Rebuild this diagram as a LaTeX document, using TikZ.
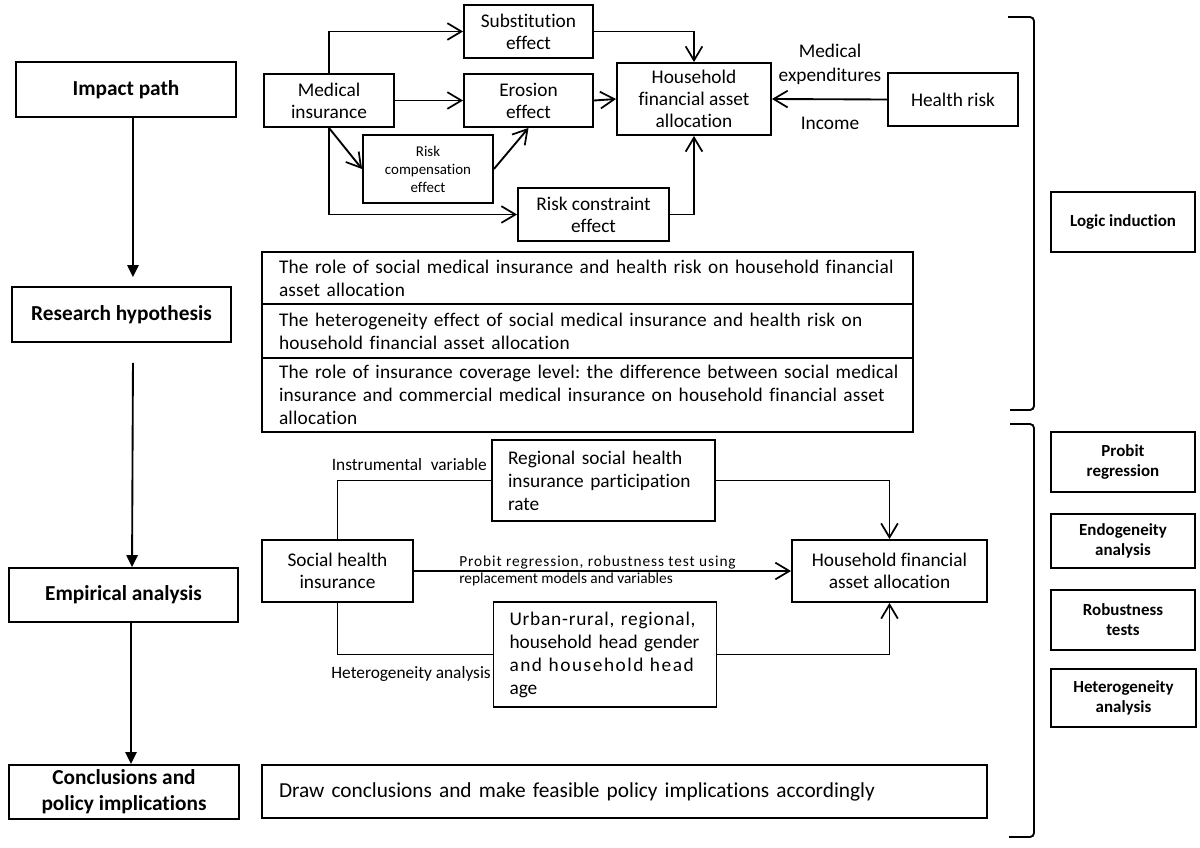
\documentclass[tikz,border=0pt]{standalone}
\usepackage{fontspec}
\setmainfont{Carlito}[Ligatures=NoCommon]
\newfontfamily\hypf[LetterSpace=1,Ligatures=NoCommon]{Carlito}
\newfontfamily\urbA[LetterSpace=4,Ligatures=NoCommon]{Carlito}
\newfontfamily\urbB[LetterSpace=8,Ligatures=NoCommon]{Carlito}
\newfontfamily\probf[LetterSpace=6,Ligatures=NoCommon]{Carlito}
\usetikzlibrary{arrows.meta}
\frenchspacing
\begin{document}
\begin{tikzpicture}[x=0.75pt,y=-0.75pt,
  box/.style={draw, line width=1.4pt, inner sep=0pt, align=center, font=\fontsize{14.5}{16.5}\selectfont},
  wh/.style 2 args={minimum width=#1*0.75pt, minimum height=#2*0.75pt},
  bbox/.style={box, font=\fontsize{16}{19.5}\selectfont\bfseries},
  rbox/.style={box, font=\fontsize{12.7}{15}\selectfont\bfseries},
  small/.style={box, font=\fontsize{11.2}{13.5}\selectfont},
  hyp/.style={draw, line width=1.4pt, inner xsep=12.75pt, inner ysep=0pt, text width=462.75pt, align=left, font=\hypf\fontsize{14.5}{17.25}\selectfont},
  lbox/.style={draw, line width=1.4pt, inner xsep=12pt, inner ysep=0pt, text width=143.25pt, align=left, font=\fontsize{14.5}{17.25}\selectfont},
  con/.style={line width=1.4pt, -{Straight Barb[length=10.5pt,width=12.5pt,line width=1.3pt]}},
  plain/.style={line width=1.4pt},
  down/.style={line width=1.4pt, -{Triangle[length=9pt,width=8.5pt]}},
  lab/.style={inner sep=0pt, font=\fontsize{14.5}{18}\selectfont, align=center},
  slab/.style={inner sep=0pt, font=\fontsize{13}{15}\selectfont}
]
\fill[white] (0,0) rectangle (1200,847);
\useasboundingbox (0,0) rectangle (1200,847);

% left column
\node[bbox, wh={220}{55}] (ip) at (126,89.5) {Impact path};
\node[bbox, wh={219}{55}] (rh) at (121.5,314.5) {Research hypothesis};
\node[bbox, wh={229}{54}] (ea) at (123.5,595) {Empirical analysis};
\node[bbox, wh={230}{54}] (cp) at (124,792) {Conclusions and\\policy implications};
\draw[down] ([xshift=5.25pt]ip.south) -- ([xshift=8.6pt,yshift=6.75pt]rh.north);
\draw[down] ([xshift=8.6pt,yshift=-15pt]rh.south) -- ([xshift=6.4pt]ea.north);
\draw[down] ([xshift=5.6pt]ea.south) -- ([xshift=5.25pt]cp.north);

% impact path diagram
\node[box, wh={130}{53}] (mi) at (329,100.5) {Medical\\insurance};
\node[box, wh={129}{53}] (sub) at (528.5,31.5) {Substitution\\effect};
\node[box, wh={129}{53}] (ero) at (528.5,100.5) {Erosion\\effect};
\node[small, wh={130}{68}] (rc) at (428,169) {Risk\\compensation\\effect};
\node[box, wh={151}{53}] (rcon) at (593.5,214.5) {Risk constraint\\effect};
\node[box, wh={154}{72}] (hfa) at (694,99) {Household\\financial asset\\allocation};
\node[box, wh={130}{53}] (hr) at (953,99.5) {Health risk};
\draw[con] (mi.north) |- (sub.west);
\draw[con] (mi.east) -- (ero.west);
\draw[con] (ero.east) -- (hfa.west);
\draw[con] (sub.east) -| (hfa.north);
\draw[con] (mi.south) -- (rc.west);
\draw[con] (rc.east) -- (ero.south);
\draw[con] (mi.south) |- (rcon.west);
\draw[con] (rcon.east) -| (hfa.south);
\draw[con] (hr.west) -- (hfa.east);
\node[lab] (me) at (830,64) {Medical\\expenditures};
\node[lab] (inc) at (830,123) {Income};

% hypotheses
\node[hyp, minimum height=52*0.75pt] (h1) at (587.5,278) {\makebox[462.75pt][s]{The role of social medical insurance and health risk on household financial}\\asset allocation};
\node[hyp, minimum height=54*0.75pt] (h2) at (587.5,331) {\makebox[462.75pt][s]{The heterogeneity effect of social medical insurance and health risk on}\\household financial asset allocation};
\node[hyp, minimum height=74*0.75pt] (h3) at (587.5,395) {\makebox[462.75pt][s]{The role of insurance coverage level: the difference between social medical}\\\makebox[462.75pt][s]{insurance and commercial medical insurance on household financial asset}\\allocation};

% empirical
\node[box, wh={151}{62}] (shi) at (337.5,571) {Social health\\insurance};
\node[lbox, minimum height=81*0.75pt] (reg) at (603.5,480.5) {Regional social health\\insurance participation\\rate};
\node[lbox, minimum height=105*0.75pt] (urb) at (605,654.5) {\makebox[143.25pt][s]{\urbA Urban-rural, regional,}\\\makebox[143.25pt][s]{household head gender}\\\makebox[143.25pt][s]{\urbB and household head}\\age};
\node[box, wh={195}{62}] (hfa2) at (889.5,571) {Household financial\\asset allocation};
\draw[plain] (shi.north) |- (reg.west);
\draw[con] (reg.east) -| (hfa2.north);
\draw[con] (shi.east) -- (hfa2.west);
\draw[plain] (shi.south) |- (urb.west);
\draw[con] (urb.east) -| (hfa2.south);
\node[slab, anchor=east] (ivl) at (487,465) {Instrumental\hspace{0.5em}variable};
\node[slab, anchor=east] (hal) at (491,674) {Heterogeneity analysis};
\node[inner sep=0pt, anchor=west, align=left, font=\fontsize{11.5}{12.75}\selectfont] (prl) at (459,570.5) {{\probf Probit regression, robustness test using}\\replacement models and variables};

% conclusions
\node[draw, line width=1.4pt, inner xsep=12.75pt, inner ysep=0pt, text width=518.25pt, align=left, minimum height=53*0.75pt, font=\fontsize{16}{19}\selectfont] (dc) at (624.5,791.5) {Draw conclusions and make feasible policy implications accordingly};

% right column
\node[rbox, wh={144}{60}] (li) at (1123,222) {Logic induction};
\node[rbox, wh={144}{60}] (pr) at (1123,462) {Probit\\regression};
\node[rbox, wh={144}{54}] (en) at (1123,541) {Endogeneity\\analysis};
\node[rbox, wh={144}{60}] (ro) at (1123,620) {Robustness\\tests};
\node[rbox, wh={145}{58}] (he) at (1123.5,698) {Heterogeneity\\analysis};

% brackets
\draw[plain, rounded corners=3pt] (1008,17) -- (1034,17) -- (1034,410) -- (1010,410);
\draw[plain, rounded corners=3pt] (1010,424) -- (1034,424) -- (1034,837) -- (1009,837);
\end{tikzpicture}
\end{document}
